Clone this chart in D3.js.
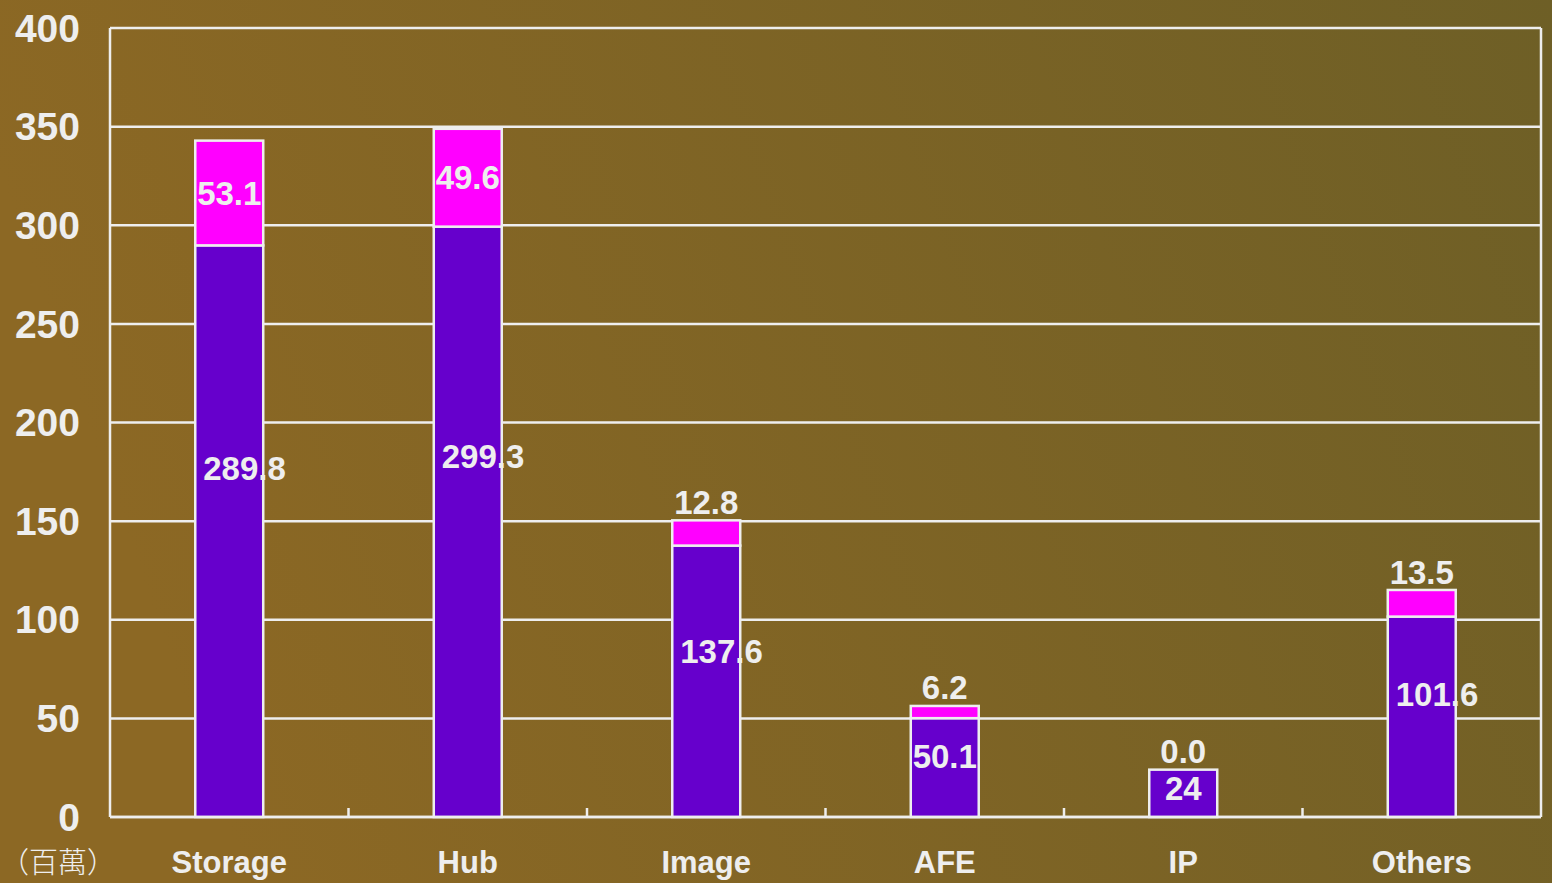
<!DOCTYPE html>
<html>
<head>
<meta charset="utf-8">
<script src="https://cdn.jsdelivr.net/npm/d3@7"></script>
<style>
  html, body { margin: 0; padding: 0; overflow: hidden; }
  svg { display: block; }
  text { font-family: "Liberation Sans", Arial, sans-serif; font-weight: bold; fill: #eeeeee; }
</style>
</head>
<body>
<svg width="1552" height="883"></svg>
<script>
// chart data
const categories = ["Storage", "Hub", "Image", "AFE", "IP", "Others"];
const baseValues = [289.8, 299.3, 137.6, 50.1, 24, 101.6];
const extraValues = [53.1, 49.6, 12.8, 6.2, 0.0, 13.5];
const yTicks = [0, 50, 100, 150, 200, 250, 300, 350, 400];
const unitLabel = "（百萬）";

const svg = d3.select("svg");
const width = 1552, height = 883;
const margin = { top: 28, right: 11, bottom: 66, left: 110 };
const line = "#eeeeee";

// background gradient
const grad = svg.append("defs").append("linearGradient")
  .attr("id", "bg").attr("x1", "0%").attr("y1", "20%").attr("x2", "100%").attr("y2", "0%");
grad.append("stop").attr("offset", "0%").attr("stop-color", "#8c6824");
grad.append("stop").attr("offset", "100%").attr("stop-color", "#6e5f26");
svg.append("rect").attr("width", width).attr("height", height).attr("fill", "url(#bg)");

const x = d3.scaleBand()
  .domain(categories)
  .range([margin.left, width - margin.right])
  .padding(0);

const y = d3.scaleLinear()
  .domain([0, 400])
  .range([height - margin.bottom, margin.top]);

const barW = x.bandwidth() * 0.285;

// gridlines
svg.append("g")
  .selectAll("line")
  .data(yTicks)
  .join("line")
  .attr("x1", margin.left).attr("x2", width - margin.right)
  .attr("y1", d => y(d)).attr("y2", d => y(d))
  .attr("stroke", line).attr("stroke-width", 2.5);

// frame sides
svg.append("line")
  .attr("x1", margin.left).attr("x2", margin.left)
  .attr("y1", y(400)).attr("y2", y(0))
  .attr("stroke", line).attr("stroke-width", 2.5);
svg.append("line")
  .attr("x1", width - margin.right).attr("x2", width - margin.right)
  .attr("y1", y(400)).attr("y2", y(0))
  .attr("stroke", line).attr("stroke-width", 2.5);

// category separator ticks
const boundaries = categories.slice(1).map(c => x(c));
svg.append("g")
  .selectAll("line")
  .data(boundaries)
  .join("line")
  .attr("x1", d => d).attr("x2", d => d)
  .attr("y1", y(0)).attr("y2", y(0) - 9)
  .attr("stroke", line).attr("stroke-width", 2.5);

// y tick labels
svg.append("g")
  .selectAll("text")
  .data(yTicks)
  .join("text")
  .attr("x", 80)
  .attr("y", d => y(d))
  .attr("dy", "0.35em")
  .attr("text-anchor", "end")
  .attr("font-size", 39)
  .text(d => d);

// stacked bars
const rows = categories.map((c, i) => ({ cat: c, base: baseValues[i], extra: extraValues[i] }));
const series = d3.stack().keys(["base", "extra"])(rows);
const colors = { base: "#6600cc", extra: "#ff00ff" };

svg.append("g")
  .selectAll("g")
  .data(series)
  .join("g")
  .attr("fill", d => colors[d.key])
  .selectAll("rect")
  .data(d => d)
  .join("rect")
  .attr("x", d => x(d.data.cat) + (x.bandwidth() - barW) / 2)
  .attr("width", barW)
  .attr("y", d => y(d[1]))
  .attr("height", d => y(d[0]) - y(d[1]))
  .attr("stroke", line)
  .attr("stroke-width", 2.5);

// bottom axis line over the bars
svg.append("line")
  .attr("x1", margin.left).attr("x2", width - margin.right)
  .attr("y1", y(0)).attr("y2", y(0))
  .attr("stroke", line).attr("stroke-width", 2.5);

// value labels
const labels = svg.append("g").attr("font-size", 33);

rows.forEach(r => {
  const cx = x(r.cat) + x.bandwidth() / 2;
  const left = cx - barW / 2;

  const t = labels.append("text")
    .attr("y", y(r.base * 0.61))
    .attr("dy", "0.35em")
    .text(r.base.toFixed(r.base % 1 === 0 ? 0 : 1));
  const w = t.node().getComputedTextLength();
  if (w > barW) t.attr("x", left + 8).attr("text-anchor", "start");
  else t.attr("x", cx).attr("text-anchor", "middle");

  const segH = y(r.base) - y(r.base + r.extra);
  labels.append("text")
    .attr("x", cx)
    .attr("y", segH > 60 ? y(r.base + r.extra / 2) : y(r.base + r.extra) - 18)
    .attr("dy", "0.35em")
    .attr("text-anchor", "middle")
    .text(r.extra.toFixed(1));
});

// category labels
svg.append("g")
  .selectAll("text")
  .data(categories)
  .join("text")
  .attr("x", d => x(d) + x.bandwidth() / 2)
  .attr("y", 873)
  .attr("text-anchor", "middle")
  .attr("font-size", 31)
  .text(d => d);

// unit label
svg.append("text")
  .attr("x", 0)
  .attr("y", 873)
  .attr("font-size", 29)
  .style("font-family", "'Noto Sans CJK TC', sans-serif")
  .style("font-weight", 300)
  .text(unitLabel);
</script>
</body>
</html>
